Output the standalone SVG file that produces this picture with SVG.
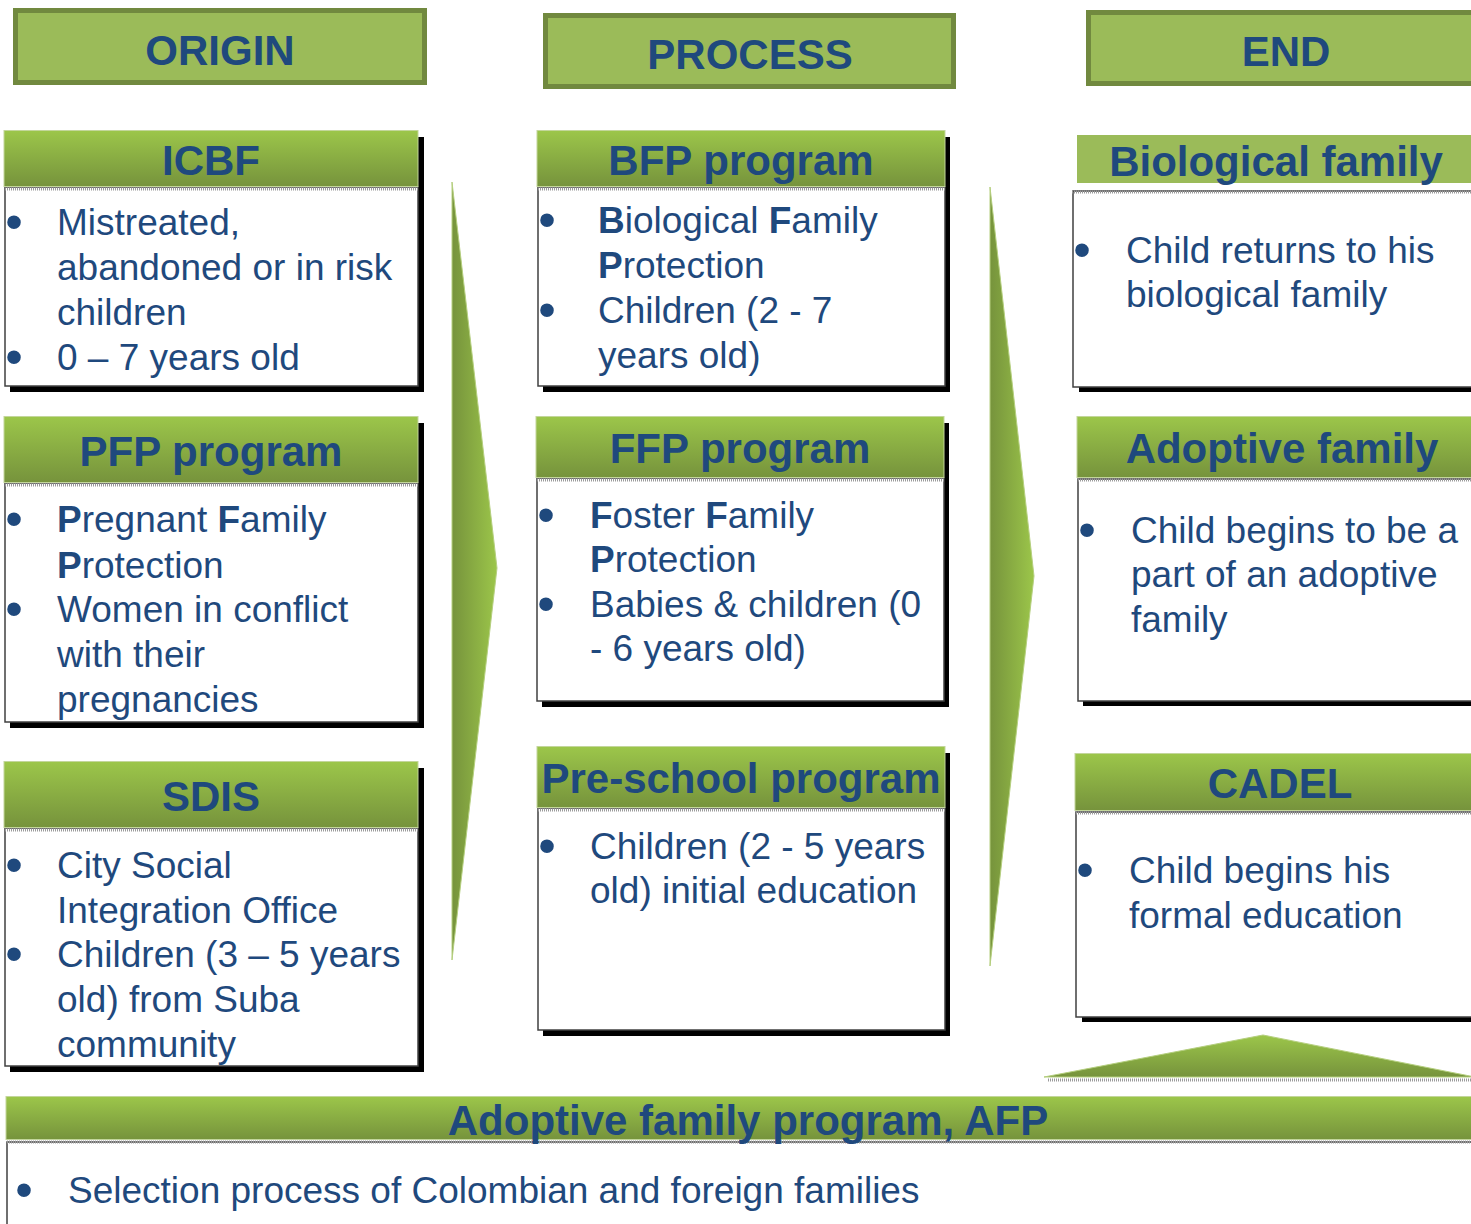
<svg xmlns="http://www.w3.org/2000/svg" width="1471" height="1224" viewBox="0 0 1471 1224">
  <defs>
    <linearGradient id="hdr" x1="0" y1="0" x2="0" y2="1">
      <stop offset="0" stop-color="#9cc64a"/>
      <stop offset="1" stop-color="#76933c"/>
    </linearGradient>
    <linearGradient id="arr" x1="0" y1="0" x2="1" y2="0">
      <stop offset="0" stop-color="#76933c"/>
      <stop offset="1" stop-color="#9cc64a"/>
    </linearGradient>
    <linearGradient id="tri" x1="0" y1="0" x2="0" y2="1">
      <stop offset="0" stop-color="#9cc64a"/>
      <stop offset="1" stop-color="#76933c"/>
    </linearGradient>
  </defs>
  <style>
    .top { fill: #9bbb59; stroke: #71893f; stroke-width: 5; }
    .hdr { fill: url(#hdr); stroke: #c3d69b; stroke-width: 1; }
    .flat { fill: #9bbb59; }
    .body { fill: #ffffff; stroke: #404040; stroke-width: 1.5; }
    .shadow { fill: #000000; }
    .sep { stroke: #9a9a9a; stroke-width: 3; stroke-dasharray: 1 1; }
    .t { font-family: "Liberation Sans", Arial, sans-serif; fill: #1f497d; }
    .title { font-size: 42px; font-weight: bold; text-anchor: middle; }
    .txt { font-size: 37px; }
    .bul { font-size: 50px; text-anchor: middle; }
    .b { font-weight: bold; }
  </style>

  <!-- Column headers -->
  <g id="origin">
    <rect class="top" x="15.5" y="10.5" width="409" height="72"/>
    <text class="t title" x="220" y="65">ORIGIN</text>
  </g>
  <g id="process">
    <rect class="top" x="545.5" y="15.5" width="408" height="71"/>
    <text class="t title" x="750" y="69">PROCESS</text>
  </g>
  <g id="end">
    <rect class="top" x="1088.5" y="12.5" width="390" height="71"/>
    <text class="t title" x="1286" y="66">END</text>
  </g>

  <!-- Connectors (chevron arrows) -->
  <g id="connectors">
    <polygon points="452,182 497,568 452,960" fill="url(#arr)" stroke="#b5cf7f" stroke-width="1"/>
    <polygon points="990,187 1034,576 990,966" fill="url(#arr)" stroke="#b5cf7f" stroke-width="1"/>
    <polygon points="1044,1077 1263,1035 1475,1077" fill="url(#tri)" stroke="#b5cf7f" stroke-width="1"/>
    <line class="sep" x1="1048" y1="1080" x2="1471" y2="1080"/>
  </g>

  <!-- ORIGIN column -->
  <g id="icbf">
    <rect class="shadow" x="10" y="137" width="414" height="255"/>
    <rect class="body" x="5" y="187" width="413" height="199"/>
    <rect class="hdr" x="4" y="130.5" width="414" height="56"/>
    <line class="sep" x1="5" y1="189" x2="418" y2="189"/>
    <text class="t title" x="211" y="175">ICBF</text>
    <text class="t bul" x="14" y="239">•</text>
    <text class="t txt" x="57" y="235">Mistreated,</text>
    <text class="t txt" x="57" y="280">abandoned or in risk</text>
    <text class="t txt" x="57" y="325">children</text>
    <text class="t bul" x="14" y="374">•</text>
    <text class="t txt" x="57" y="370">0 – 7 years old</text>
  </g>

  <g id="pfp">
    <rect class="shadow" x="10" y="423" width="414" height="305"/>
    <rect class="body" x="5" y="483" width="413" height="239"/>
    <rect class="hdr" x="4" y="416.5" width="414" height="66"/>
    <line class="sep" x1="5" y1="485" x2="418" y2="485"/>
    <text class="t title" x="211" y="466">PFP program</text>
    <text class="t bul" x="14" y="536">•</text>
    <text class="t txt" x="57" y="532"><tspan class="b">P</tspan>regnant <tspan class="b">F</tspan>amily</text>
    <text class="t txt" x="57" y="578"><tspan class="b">P</tspan>rotection</text>
    <text class="t bul" x="14" y="626">•</text>
    <text class="t txt" x="57" y="622">Women in conflict</text>
    <text class="t txt" x="57" y="667">with their</text>
    <text class="t txt" x="57" y="712">pregnancies</text>
  </g>

  <g id="sdis">
    <rect class="shadow" x="10" y="768" width="414" height="304"/>
    <rect class="body" x="5" y="828" width="413" height="238"/>
    <rect class="hdr" x="4" y="761.5" width="414" height="66"/>
    <line class="sep" x1="5" y1="830" x2="418" y2="830"/>
    <text class="t title" x="211" y="811">SDIS</text>
    <text class="t bul" x="14" y="882">•</text>
    <text class="t txt" x="57" y="878">City Social</text>
    <text class="t txt" x="57" y="923">Integration Office</text>
    <text class="t bul" x="14" y="971">•</text>
    <text class="t txt" x="57" y="967">Children (3 – 5 years</text>
    <text class="t txt" x="57" y="1012">old) from Suba</text>
    <text class="t txt" x="57" y="1057">community</text>
  </g>

  <!-- PROCESS column -->
  <g id="bfp">
    <rect class="shadow" x="543" y="137" width="407" height="255"/>
    <rect class="body" x="538" y="187" width="407" height="199"/>
    <rect class="hdr" x="537" y="130.5" width="408" height="56"/>
    <line class="sep" x1="538" y1="189" x2="945" y2="189"/>
    <text class="t title" x="741" y="175">BFP program</text>
    <text class="t bul" x="547" y="237">•</text>
    <text class="t txt" x="598" y="233"><tspan class="b">B</tspan>iological <tspan class="b">F</tspan>amily</text>
    <text class="t txt" x="598" y="278"><tspan class="b">P</tspan>rotection</text>
    <text class="t bul" x="547" y="327">•</text>
    <text class="t txt" x="598" y="323">Children (2 - 7</text>
    <text class="t txt" x="598" y="368">years old)</text>
  </g>

  <g id="ffp">
    <rect class="shadow" x="542" y="423" width="407" height="284"/>
    <rect class="body" x="537" y="478" width="407" height="223"/>
    <rect class="hdr" x="536" y="416.5" width="408" height="61"/>
    <line class="sep" x1="537" y1="480" x2="944" y2="480"/>
    <text class="t title" x="740" y="463">FFP program</text>
    <text class="t bul" x="546" y="532">•</text>
    <text class="t txt" x="590" y="528"><tspan class="b">F</tspan>oster <tspan class="b">F</tspan>amily</text>
    <text class="t txt" x="590" y="572"><tspan class="b">P</tspan>rotection</text>
    <text class="t bul" x="546" y="621">•</text>
    <text class="t txt" x="590" y="617">Babies &amp; children (0</text>
    <text class="t txt" x="590" y="661">- 6 years old)</text>
  </g>

  <g id="preschool">
    <rect class="shadow" x="543" y="753" width="407" height="283"/>
    <rect class="body" x="538" y="808" width="407" height="222"/>
    <rect class="hdr" x="537" y="746.5" width="408" height="61"/>
    <line class="sep" x1="538" y1="810" x2="945" y2="810"/>
    <text class="t title" x="741" y="793">Pre-school program</text>
    <text class="t bul" x="547" y="863">•</text>
    <text class="t txt" x="590" y="859">Children (2 - 5 years</text>
    <text class="t txt" x="590" y="903">old) initial education</text>
  </g>

  <!-- END column -->
  <g id="biological">
    <rect class="shadow" x="1079" y="196" width="400" height="196"/>
    <rect class="body" x="1073" y="191" width="405" height="196"/>
    <rect class="flat" x="1077" y="135" width="400" height="48"/>
    <line class="sep" x1="1072" y1="192" x2="1471" y2="192"/>
    <text class="t title" x="1276" y="176">Biological family</text>
    <text class="t bul" x="1082" y="267">•</text>
    <text class="t txt" x="1126" y="263">Child returns to his</text>
    <text class="t txt" x="1126" y="307">biological family</text>
  </g>

  <g id="adoptive">
    <rect class="shadow" x="1083" y="484" width="396" height="222"/>
    <rect class="body" x="1078" y="479" width="400" height="222"/>
    <rect class="hdr" x="1077" y="416.5" width="400" height="61"/>
    <line class="sep" x1="1078" y1="480" x2="1471" y2="480"/>
    <text class="t title" x="1282" y="463">Adoptive family</text>
    <text class="t bul" x="1087" y="547">•</text>
    <text class="t txt" x="1131" y="543">Child begins to be a</text>
    <text class="t txt" x="1131" y="587">part of an adoptive</text>
    <text class="t txt" x="1131" y="632">family</text>
  </g>

  <g id="cadel">
    <rect class="shadow" x="1082" y="817" width="397" height="205"/>
    <rect class="body" x="1076" y="812" width="402" height="205"/>
    <rect class="hdr" x="1075" y="753.5" width="402" height="57"/>
    <line class="sep" x1="1076" y1="813" x2="1471" y2="813"/>
    <text class="t title" x="1280" y="798">CADEL</text>
    <text class="t bul" x="1085" y="887">•</text>
    <text class="t txt" x="1129" y="883">Child begins his</text>
    <text class="t txt" x="1129" y="928">formal education</text>
  </g>

  <!-- Bottom band -->
  <g id="afp">
    <rect class="body" x="7" y="1142" width="1470" height="90"/>
    <rect class="hdr" x="6" y="1096.5" width="1470" height="43"/>
    <line class="sep" x1="7" y1="1142" x2="1471" y2="1142"/>
    <text class="t title" x="748" y="1135">Adoptive family program, AFP</text>
    <text class="t bul" x="24" y="1207">•</text>
    <text class="t txt" x="68" y="1203">Selection process of Colombian and foreign families</text>
  </g>
</svg>
